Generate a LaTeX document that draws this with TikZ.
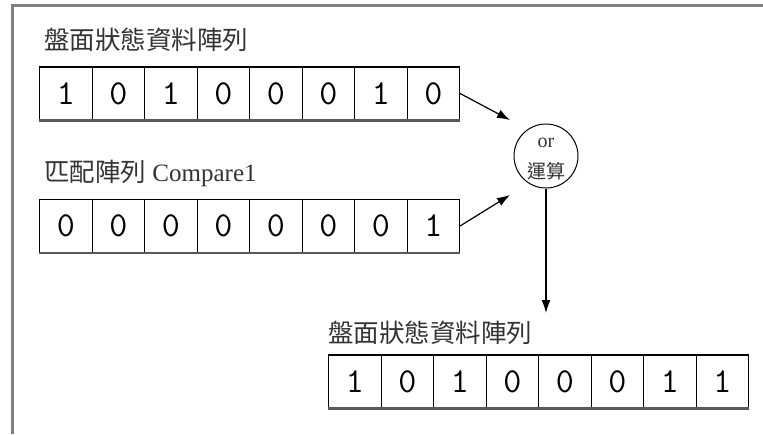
\documentclass[tikz,border=0pt]{standalone}
\usepackage{fontspec}
\setmainfont{Liberation Serif}
\newfontfamily\cjk{Noto Sans CJK TC}
\usetikzlibrary{arrows.meta,calc}
\begin{document}
\begin{tikzpicture}[x=1pt,y=-1pt,
  cell/.style={draw=black, line width=1.1pt, minimum width=52.5pt, minimum height=53pt, inner sep=0pt,
    font=\ttfamily\fontsize{35}{35}\selectfont, anchor=west},
  title/.style={font=\cjk\fontsize{25.5}{25.5}\selectfont, anchor=west, text=black!80, inner sep=0pt},
  shadowline/.style={line width=2.5pt, draw=black!65},
  arr/.style={-{Latex[length=13pt,width=9pt]}, line width=1.2pt}]
\useasboundingbox (0,0) rectangle (763,434);
\draw[black!50, line width=3pt] (12,434) -- (12,5) -- (763,5);

\node[title] (t1) at (44,40) {盤面狀態資料陣列};
\foreach \v [count=\i] in {1,0,1,0,0,0,1,0}
  \node[cell] (a\i) at ({39+(\i-1)*52.5},93.5) {\v};
\draw[shadowline] (a1.south west) -- (a8.south east);

\node[title] (t2) at (44,173) {匹配陣列\fontspec{Liberation Serif}\fontsize{25}{25}\selectfont\ Compare1};
\foreach \v [count=\i] in {0,0,0,0,0,0,0,1}
  \node[cell] (b\i) at ({39+(\i-1)*52.5},226) {\v};
\draw[shadowline] (b1.south west) -- (b8.south east);

\node[draw, circle, minimum size=64pt, line width=1pt, inner sep=0pt] (op) at (546,156) {};
\node[font=\fontsize{20}{20}\selectfont, inner sep=0pt, text=black!80] (opor) at (546,143) {or};
\node[font=\cjk\fontsize{19}{19}\selectfont, inner sep=0pt, text=black!80] (opys) at (546,171) {運算};

\draw[arr] (a8.east) -- ([shift={(-13,-13)}]op.135);
\draw[arr] (b8.east) -- ([shift={(-13,16)}]op.-135);

\coordinate (tip) at (546,313);
\draw[arr] (op.south) -- (tip);

\node[title] (t3) at (328,333) {盤面狀態資料陣列};
\foreach \v [count=\i] in {1,0,1,0,0,0,1,1}
  \node[cell] (c\i) at ({328+(\i-1)*52.5},381.5) {\v};
\draw[shadowline] (c1.south west) -- (c8.south east);
\end{tikzpicture}
\end{document}
